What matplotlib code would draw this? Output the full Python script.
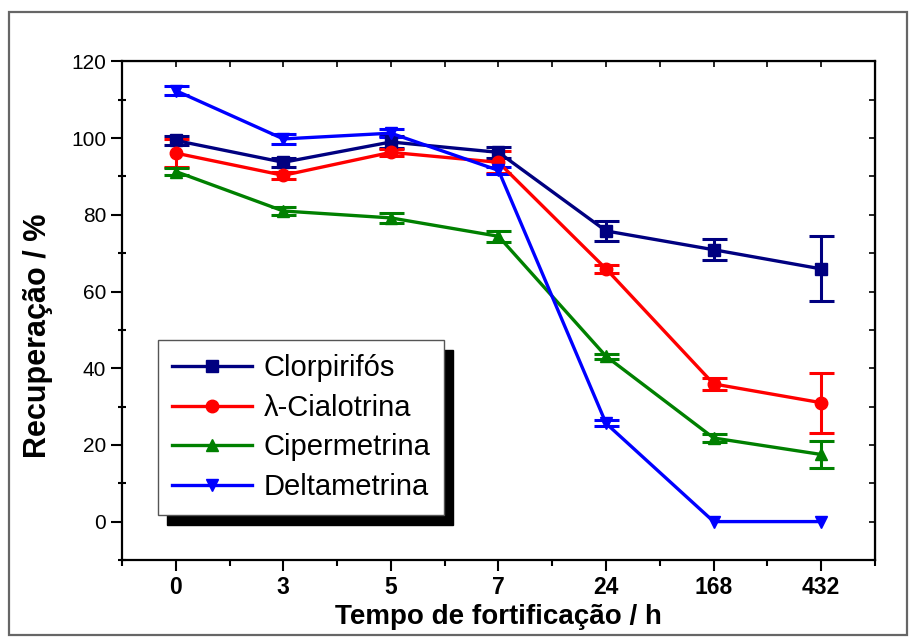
import matplotlib
matplotlib.use("Agg")
import matplotlib.pyplot as plt
import numpy as np
from matplotlib.patches import Rectangle

plt.rcParams['font.family'] = ['Liberation Sans', 'DejaVu Sans']

# fortification times (categorical axis)
time_labels = ['0', '3', '5', '7', '24', '168', '432']

# recovery (%) and error for each pesticide
clorpirifos = [99.4, 93.7, 99.0, 96.3, 75.8, 70.9, 65.9]
clorpirifos_err = [1.2, 1.2, 1.5, 1.5, 2.5, 2.8, 8.5]
cialotrina = [96.1, 90.3, 96.3, 93.7, 65.9, 35.9, 31.0]
cialotrina_err = [3.7, 1.0, 1.0, 2.9, 1.0, 1.6, 7.8]
cipermetrina = [91.3, 81.0, 79.2, 74.4, 43.1, 21.8, 17.5]
cipermetrina_err = [1.0, 1.0, 1.3, 1.5, 0.7, 1.0, 3.5]
deltametrina = [112.4, 99.8, 101.3, 91.6, 25.6, 0.0, 0.0]
deltametrina_err = [1.1, 1.2, 1.0, 1.0, 0.8, np.nan, np.nan]

series = [
    ('Clorpirifós', clorpirifos, clorpirifos_err, '#000080', 's'),
    ('λ-Cialotrina', cialotrina, cialotrina_err, '#ff0000', 'o'),
    ('Cipermetrina', cipermetrina, cipermetrina_err, '#008000', '^'),
    ('Deltametrina', deltametrina, deltametrina_err, '#0000ff', 'v'),
]

fig = plt.figure(figsize=(9.13, 6.37), dpi=100)
ax = fig.add_axes([0.1336, 0.121, 0.8248, 0.7825])

x = np.arange(len(time_labels))
for label, vals, errs, color, marker in series:
    ax.errorbar(x, vals, yerr=errs, fmt='none', ecolor=color, elinewidth=2.2,
                capsize=9, capthick=2.2, zorder=3)
    ax.plot(x, vals, color=color, marker=marker, markersize=9, lw=2.4,
            label=label, zorder=4)

ax.set_xlim(-0.5, 6.5)
ax.set_ylim(-10, 120)
ax.set_xticks(x)
ax.set_xticklabels(time_labels, fontsize=16.5, fontweight='bold')
ax.set_xticks(np.arange(-0.5, 7, 1), minor=True)
ax.set_yticks(np.arange(0, 121, 20))
ax.set_yticks(np.arange(-10, 121, 10), minor=True)
ax.tick_params(axis='y', labelsize=15)
ax.tick_params(axis='both', which='major', direction='out', length=8, width=1.5)
ax.tick_params(axis='x', which='minor', direction='out', length=4, width=1.5)
ax.tick_params(axis='y', which='minor', direction='inout', length=6, width=1.5)
for s in ax.spines.values():
    s.set_linewidth(1.6)

top = ax.secondary_xaxis('top')
top.set_xticks(np.arange(-0.5, 7, 0.5))
top.tick_params(direction='in', length=4, width=1.2, labeltop=False)
right = ax.secondary_yaxis('right')
right.set_yticks(np.arange(-10, 121, 10))
right.tick_params(direction='in', length=4, width=1.2, labelright=False)

ax.set_xlabel('Tempo de fortificação / h', fontsize=20, fontweight='bold', labelpad=4)
ax.set_ylabel('Recuperação / %', fontsize=22, fontweight='bold')
ax.yaxis.set_label_coords(-0.092, 0.45)

leg = ax.legend(loc='upper left', bbox_to_anchor=(0.048, 0.441), borderaxespad=0,
                fontsize=21, fancybox=False, framealpha=1, edgecolor='#555555',
                handlelength=2.75, handletextpad=0.38, labelspacing=0.4,
                borderpad=0.48,
                shadow={'ox': 6.5, 'oy': -7, 'color': 'black', 'alpha': 1})
leg.get_frame().set_linewidth(1.0)

fig.patches.append(Rectangle((0.0099, 0.0031), 0.9836, 0.978, transform=fig.transFigure,
                             fill=False, edgecolor='#666666', linewidth=1.6))

fig.savefig('out.png', dpi=100)
